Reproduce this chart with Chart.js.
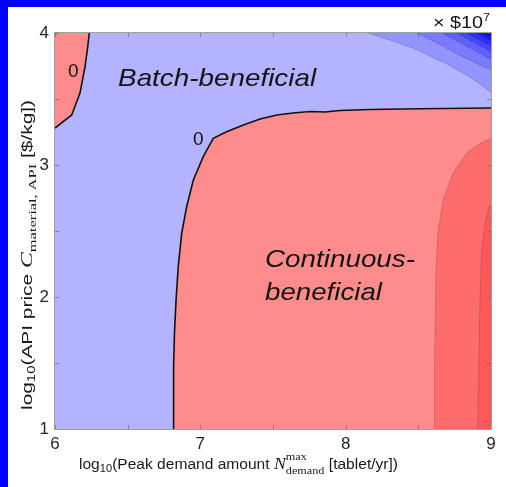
<!DOCTYPE html>
<html><head><meta charset="utf-8">
<script src="https://cdn.jsdelivr.net/npm/chart.js@4.4.0/dist/chart.umd.min.js"></script>
<style>
html,body{margin:0;padding:0;background:#fff;}
#frame{width:498px;height:480px;border-top:7px solid #0000ff;border-left:8px solid #0000ff;background:#fff;}
canvas{display:block;}
</style></head><body>
<div id="frame"><canvas id="c" width="498" height="480"></canvas></div>
<script>
// ---------- data ----------
const X_RANGE = [6, 9];
const Y_RANGE = [1, 4];
const X_TICKS = [6, 7, 8, 9];
const Y_TICKS = [1, 2, 3, 4];
const X_MINOR = [6, 6.5, 7, 7.5, 8, 8.5, 9];
const Y_MINOR = [1, 1.5, 2, 2.5, 3, 3.5, 4];

// zero contour, upper-left pocket (continuous-beneficial)
const zeroLeftX = [6.000, 6.115, 6.172, 6.206, 6.225, 6.236];
const zeroLeftY = [3.280, 3.379, 3.545, 3.742, 3.894, 4.000];
// zero contour, main boundary
const zeroMainX = [6.814, 6.816, 6.822, 6.833, 6.848, 6.872, 6.906, 6.952, 7.020, 7.089, 7.181, 7.296, 7.411, 7.526, 7.638, 7.755, 7.858, 7.961, 8.167, 8.511, 9.000];
const zeroMainY = [1.000, 1.472, 1.727, 1.977, 2.230, 2.485, 2.684, 2.886, 3.063, 3.202, 3.252, 3.303, 3.348, 3.379, 3.394, 3.405, 3.402, 3.413, 3.420, 3.426, 3.432];
// second red level
const red2X = [8.610, 8.611, 8.615, 8.622, 8.635, 8.670, 8.739, 8.833, 8.920, 9.000];
const red2Y = [1.000, 1.371, 1.727, 2.227, 2.485, 2.735, 2.939, 3.091, 3.160, 3.205];
// third red level
const red3X = [8.908, 8.912, 8.924, 8.936, 8.959, 8.988, 9.000];
const red3Y = [1.000, 1.220, 1.977, 2.356, 2.561, 2.684, 2.697];
// blue levels (top-right corner)
const blue1X = [8.154, 8.305, 8.463, 8.697, 8.856, 9.000];
const blue1Y = [4.000, 3.947, 3.886, 3.765, 3.667, 3.553];
const blue2X = [8.491, 8.620, 8.750, 8.880, 9.000];
const blue2Y = [4.000, 3.930, 3.850, 3.780, 3.720];
const blue3X = [8.663, 8.780, 8.900, 9.000];
const blue3Y = [4.000, 3.930, 3.860, 3.800];
const blue4X = [8.766, 8.880, 9.000];
const blue4Y = [4.000, 3.930, 3.856];
const blue5X = [8.835, 8.920, 9.000];
const blue5Y = [4.000, 3.945, 3.900];
const blue6X = [8.904, 8.950, 9.000];
const blue6Y = [4.000, 3.970, 3.940];
const blue7X = [8.959, 9.000];
const blue7Y = [4.000, 3.970];

// ---------- styles ----------
const SANS = '"Liberation Sans", Arial, Helvetica, sans-serif';
const SERIF = '"Liberation Serif", "Times New Roman", serif';
const C_BLUE0 = '#b3b3ff';
const BLUE_BANDS = ['#9494ff', '#7a7aff', '#6060ff', '#4646ff', '#2e2eff', '#1717ff', '#0000f0'];
const C_RED1 = '#ff8c8c', C_RED2 = '#ff6c6c', C_RED3 = '#ff5858';

const pts = (xs, ys) => xs.map((v, i) => ({x: v, y: ys[i]}));
const close = (arr) => arr.concat([arr[0]]);
const [X0, X1] = X_RANGE, [Y0, Y1] = Y_RANGE;

function poly(data, color) {
  return {data: close(data), showLine: true, fill: 'shape', backgroundColor: color,
          borderColor: 'transparent', borderWidth: 0, pointRadius: 0, tension: 0};
}
function line(data, color, width) {
  return {data, showLine: true, fill: false, borderColor: color, borderWidth: width,
          pointRadius: 0, tension: 0};
}

const ds = [];
ds.push(poly(pts([X0, X1, X1, X0], [Y0, Y0, Y1, Y1]), C_BLUE0));
ds.push(poly(pts(zeroLeftX, zeroLeftY).concat([{x: X0, y: Y1}]), C_RED1));
ds.push(poly(pts(zeroMainX, zeroMainY).concat([{x: X1, y: Y0}]), C_RED1));
ds.push(poly(pts(red2X, red2Y).concat([{x: X1, y: Y0}]), C_RED2));
ds.push(poly(pts(red3X, red3Y).concat([{x: X1, y: Y0}]), C_RED3));
const blues = [[blue1X, blue1Y], [blue2X, blue2Y], [blue3X, blue3Y], [blue4X, blue4Y], [blue5X, blue5Y], [blue6X, blue6Y], [blue7X, blue7Y]];
blues.forEach((b, i) => ds.push(poly(pts(b[0], b[1]).concat([{x: X1, y: Y1}]), BLUE_BANDS[i])));
// contour lines
const THIN = 'rgba(60,40,80,0.30)';
ds.push(line(pts(red2X, red2Y), THIN, 0.8));
ds.push(line(pts(red3X, red3Y), THIN, 0.8));
blues.forEach(b => ds.push(line(pts(b[0], b[1]), THIN, 0.8)));
ds.push(line(pts(zeroLeftX, zeroLeftY), '#111', 1.6));
ds.push(line(pts(zeroMainX, zeroMainY), '#111', 1.6));
ds.forEach((d, i) => d.order = ds.length - i);

// ---------- text helpers ----------
function runsWidth(ctx, runs) {
  let w = 0;
  for (const r of runs) {
    if (r.stack) {
      let m = 0;
      for (const s of r.stack) { ctx.font = s.font; m = Math.max(m, ctx.measureText(s.t).width); }
      w += m;
    } else { ctx.font = r.font; w += ctx.measureText(r.t).width; }
  }
  return w;
}
function drawRuns(ctx, runs, targetW) {
  const w = runsWidth(ctx, runs);
  const sx = targetW ? targetW / w : 1;
  ctx.save();
  ctx.scale(sx, 1);
  ctx.textAlign = 'left'; ctx.textBaseline = 'alphabetic';
  let cx = 0;
  for (const r of runs) {
    if (r.stack) {
      let m = 0;
      for (const s of r.stack) { ctx.font = s.font; ctx.fillText(s.t, cx, s.dy || 0); m = Math.max(m, ctx.measureText(s.t).width); }
      cx += m;
    } else { ctx.font = r.font; ctx.fillText(r.t, cx, r.dy || 0); cx += ctx.measureText(r.t).width; }
  }
  ctx.restore();
}

const decor = {
  id: 'decor',
  afterDatasetsDraw(chart) {
    const {ctx, chartArea: a, scales: {x, y}} = chart;
    ctx.save();
    // inward ticks
    ctx.strokeStyle = 'rgba(90,90,90,0.55)'; ctx.lineWidth = 1;
    ctx.beginPath();
    for (const v of X_MINOR) {
      const p = Math.round(x.getPixelForValue(v)) + 0.5;
      ctx.moveTo(p, a.bottom); ctx.lineTo(p, a.bottom - 4);
      ctx.moveTo(p, a.top); ctx.lineTo(p, a.top + 4);
    }
    for (const v of Y_MINOR) {
      const p = Math.round(y.getPixelForValue(v)) + 0.5;
      ctx.moveTo(a.left, p); ctx.lineTo(a.left + 4, p);
      ctx.moveTo(a.right, p); ctx.lineTo(a.right - 4, p);
    }
    ctx.stroke();
    // box
    ctx.strokeStyle = '#a0a0a0';
    ctx.strokeRect(a.left - 0.5, a.top - 0.5, a.right - a.left + 1, a.bottom - a.top + 1);

    ctx.fillStyle = '#141414';
    // region labels
    ctx.save(); ctx.translate(x.getPixelForValue(6.434), y.getPixelForValue(3.598));
    drawRuns(ctx, [{t: 'Batch-beneficial', font: 'italic 24px ' + SANS}], 198); ctx.restore();
    ctx.save(); ctx.translate(x.getPixelForValue(7.445), y.getPixelForValue(2.227));
    drawRuns(ctx, [{t: 'Continuous-', font: 'italic 24px ' + SANS}], 150); ctx.restore();
    ctx.save(); ctx.translate(x.getPixelForValue(7.445), y.getPixelForValue(1.977));
    drawRuns(ctx, [{t: 'beneficial', font: 'italic 24px ' + SANS}], 117); ctx.restore();
    // contour labels
    ctx.font = '19px ' + SANS; ctx.textAlign = 'center'; ctx.textBaseline = 'middle';
    ctx.fillText('0', x.getPixelForValue(6.126), y.getPixelForValue(3.707));
    ctx.fillText('0', x.getPixelForValue(6.986), y.getPixelForValue(3.189));
    // multiplier
    const mult = [{t: '\u00d7 $10', font: '17px ' + SANS}, {t: '7', font: '11px ' + SANS, dy: -7}];
    ctx.save(); ctx.translate(a.right - 58, a.top - 5); drawRuns(ctx, mult, 57); ctx.restore();
    // x title
    ctx.fillStyle = '#1a1a1a';
    const xt = [
      {t: 'log', font: '14px ' + SANS}, {t: '10', font: '10px ' + SANS, dy: 3},
      {t: '(Peak demand amount ', font: '14px ' + SANS},
      {t: 'N', font: 'italic 16px ' + SERIF},
      {stack: [{t: 'max', font: '11px ' + SERIF, dy: -9}, {t: 'demand', font: '11px ' + SERIF, dy: 5}]},
      {t: ' [tablet/yr])', font: '14px ' + SANS}
    ];
    ctx.save(); ctx.translate(71, 462); drawRuns(ctx, xt, 319); ctx.restore();
    // y title
    const yt = [
      {t: 'log', font: '14px ' + SANS}, {t: '10', font: '10px ' + SANS, dy: 3},
      {t: '(API price ', font: '14px ' + SANS},
      {t: 'C', font: 'italic 16px ' + SERIF},
      {t: 'material, API', font: '11px ' + SERIF, dy: 4},
      {t: ' [$/kg])', font: '14px ' + SANS}
    ];
    ctx.save(); ctx.translate(24, 403); ctx.rotate(-Math.PI / 2); drawRuns(ctx, yt, 310); ctx.restore();
    ctx.restore();
  }
};

new Chart(document.getElementById('c'), {
  type: 'scatter',
  data: {datasets: ds},
  options: {
    responsive: false, animation: false, devicePixelRatio: 1,
    layout: {padding: {left: 0, top: 26, right: 15, bottom: 0}},
    plugins: {legend: {display: false}, tooltip: {enabled: false}, filler: {propagate: false}},
    events: [],
    scales: {
      x: {type: 'linear', min: X0, max: X1,
          afterFit(s) { s.height = 58; },
          afterBuildTicks(s) { s.ticks = X_TICKS.map(v => ({value: v})); },
          grid: {display: false, drawTicks: false}, border: {display: false},
          ticks: {font: {family: SANS, size: 17}, color: '#262626', padding: 5, maxRotation: 0, autoSkip: false}},
      y: {type: 'linear', min: Y0, max: Y1,
          afterFit(s) { s.width = 47; },
          afterBuildTicks(s) { s.ticks = Y_TICKS.map(v => ({value: v})); },
          grid: {display: false, drawTicks: false}, border: {display: false},
          ticks: {font: {family: SANS, size: 17}, color: '#262626', padding: 6, autoSkip: false}}
    }
  },
  plugins: [decor]
});
</script>
</body></html>
